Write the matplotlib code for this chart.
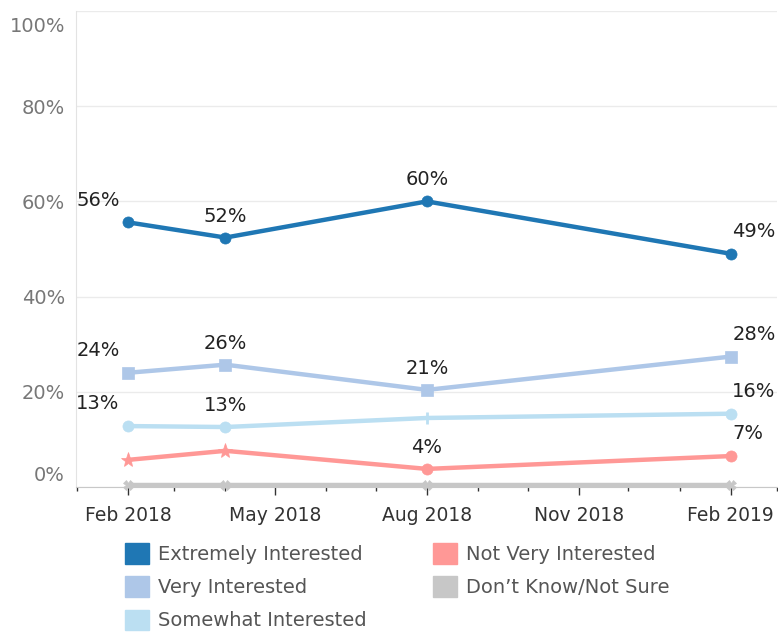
import matplotlib
matplotlib.use('Agg')
import matplotlib.pyplot as plt
import matplotlib.dates as mdates
import matplotlib.patches as mpatches
import matplotlib.transforms as mtransforms
from datetime import datetime

# survey waves
dates = [datetime(2018, 2, 1), datetime(2018, 4, 1), datetime(2018, 8, 1), datetime(2019, 2, 1)]

series_names = ['Extremely Interested', 'Very Interested', 'Somewhat Interested',
                'Not Very Interested', "Don\u2019t Know/Not Sure"]
extremely = [0.556, 0.524, 0.600, 0.490]
very = [0.240, 0.257, 0.204, 0.274]
somewhat = [0.128, 0.126, 0.145, 0.154]
not_very = [0.057, 0.076, 0.038, 0.065]
dont_know = [0.005, 0.005, 0.005, 0.005]

extremely_labels = ['56%', '52%', '60%', '49%']
very_labels = ['24%', '26%', '21%', '28%']
somewhat_labels = ['13%', '13%', None, '16%']
not_very_labels = [None, None, '4%', '7%']
dont_know_labels = [None, None, None, None]

colors = ['#1f77b4', '#aec7e8', '#bbdff2', '#ff9896', '#c7c7c7']
markers = [['o', 'o', 'o', 'o'],
           ['s', 's', 's', 's'],
           ['o', 'o', '+', 'o'],
           ['*', '*', 'o', 'o'],
           ['X', 'X', 'X', 'X']]

yticks = [0, 0.2, 0.4, 0.6, 0.8, 1.0]
ytick_labels = ['0%', '20%', '40%', '60%', '80%', '100%']

W, H = 778, 632
fig = plt.figure(figsize=(W / 100, H / 100), dpi=100)
ax = fig.add_axes([76 / W, 1 - 487 / H, (777 - 76) / W, (487 - 11) / H])

all_vals = [extremely, very, somewhat, not_very, dont_know]
all_labels = [extremely_labels, very_labels, somewhat_labels, not_very_labels, dont_know_labels]

for k in range(len(all_vals) - 1, -1, -1):
    vals = all_vals[k]
    c = colors[k]
    ax.plot(dates, vals, color=c, lw=3.2, solid_capstyle='round', zorder=3 + (4 - k), clip_on=False)
    for i, (d, v) in enumerate(zip(dates, vals)):
        m = markers[k][i]
        ms = {'o': 8, 's': 9, '+': 9, '*': 11, 'X': 7}[m]
        ax.plot([d], [v], marker=m, ms=ms, color=c, mew=2 if m == '+' else 0.5,
                zorder=3 + (4 - k), clip_on=False)
        lab = all_labels[k][i]
        if lab is None:
            continue
        if i == 0:
            ax.annotate(lab, (d, v), xytext=(-6, 16), textcoords='offset points',
                        ha='right', va='center', fontsize=14, color='#222222')
        elif i == len(dates) - 1:
            ax.annotate(lab, (d, v), xytext=(1, 16), textcoords='offset points',
                        ha='left', va='center', fontsize=14, color='#222222', annotation_clip=False)
        else:
            ax.annotate(lab, (d, v), xytext=(0, 15.5), textcoords='offset points',
                        ha='center', va='center', fontsize=14, color='#222222')

ax.set_ylim(0, 1.0)
ax.set_xlim(datetime(2017, 12, 31, 12), datetime(2019, 3, 1))

ax.set_yticks(yticks)
ax.set_yticklabels(ytick_labels)
ax.tick_params(axis='y', length=0, pad=8, labelsize=14, labelcolor='#777777')
ax.yaxis.grid(True, color='#ebebeb', lw=1)
ax.set_axisbelow(True)

labs = ax.get_yticklabels()
labs[0].set_va('bottom')
labs[0].set_transform(labs[0].get_transform() + mtransforms.ScaledTranslation(0, 1.5 / 72, fig.dpi_scale_trans))
labs[-1].set_va('top')
labs[-1].set_transform(labs[-1].get_transform() + mtransforms.ScaledTranslation(0, -4 / 72, fig.dpi_scale_trans))

ax.xaxis.set_major_locator(mdates.MonthLocator(bymonth=[2, 5, 8, 11]))
ax.xaxis.set_minor_locator(mdates.MonthLocator())
ax.xaxis.set_major_formatter(mdates.DateFormatter('%b %Y'))
ax.tick_params(axis='x', which='major', length=6, width=1, color='#333333',
               labelsize=13.5, labelcolor='#333333', pad=8)
ax.tick_params(axis='x', which='minor', length=3, width=1, color='#333333')

for s in ['top', 'right']:
    ax.spines[s].set_visible(False)
ax.spines['left'].set_color('#e3e3e3')
ax.spines['bottom'].set_color('#c8c8c8')
ax.spines['bottom'].set_linestyle((0, (2, 1)))

handles = [mpatches.Patch(color=c, label=n) for c, n in zip(colors, series_names)]
leg = fig.legend(handles=handles, loc='upper left', bbox_to_anchor=(125 / W, 1 - 543 / H),
                 ncol=2, frameon=False, fontsize=14, handlelength=1.25, handleheight=1.25,
                 handletextpad=0.45, labelspacing=0.64, columnspacing=3.4,
                 borderpad=0, borderaxespad=0)
for t in leg.get_texts():
    t.set_color('#555555')

fig.savefig('out.png', dpi=100)
